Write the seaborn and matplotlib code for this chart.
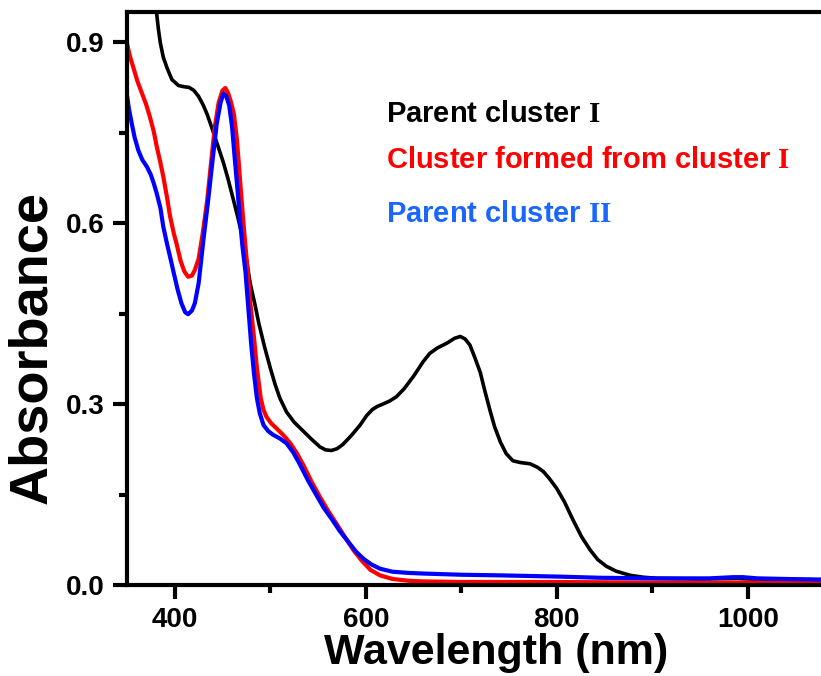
import numpy as np
import pandas as pd
import matplotlib
matplotlib.use("Agg")
import matplotlib.pyplot as plt
from matplotlib.ticker import MultipleLocator, FormatStrFormatter
import seaborn as sns

# UV-vis-NIR absorption spectra (wavelength in nm, absorbance)
wl_parent1 = [378, 381, 383, 385, 388, 392, 397, 404, 410, 415, 420, 425, 430, 434,
              438, 442, 446, 451, 456, 462, 466, 470, 475, 479, 484, 488, 494, 500,
              505, 510, 517, 525, 534, 543, 552, 558, 564, 570, 576, 585, 594, 601,
              607, 612, 618, 625, 632, 640, 650, 660, 667, 675, 685, 693, 699, 704,
              709, 714, 720, 725, 730, 735, 741, 747, 754, 762, 772, 780, 786, 792,
              800, 808, 817, 826, 835, 843, 852, 862, 877, 890, 905, 950, 990, 1000,
              1040, 1080]
abs_parent1 = [0.98, 0.948, 0.92, 0.898, 0.875, 0.857, 0.838, 0.828, 0.826, 0.825, 0.82,
               0.81, 0.795, 0.78, 0.762, 0.743, 0.724, 0.70, 0.672, 0.635, 0.61, 0.583,
               0.54, 0.50, 0.465, 0.434, 0.395, 0.36, 0.333, 0.31, 0.287, 0.27, 0.256,
               0.242, 0.229, 0.224, 0.223, 0.226, 0.233, 0.248, 0.265, 0.281, 0.291,
               0.296, 0.300, 0.305, 0.312, 0.325, 0.346, 0.37, 0.384, 0.393, 0.401,
               0.409, 0.412, 0.408, 0.398, 0.378, 0.352, 0.32, 0.29, 0.262, 0.237,
               0.218, 0.206, 0.203, 0.201, 0.195, 0.188, 0.177, 0.16, 0.138, 0.108,
               0.08, 0.058, 0.042, 0.031, 0.023, 0.016, 0.013, 0.011, 0.010, 0.011,
               0.010, 0.009, 0.008]

wl_formed = [350, 353, 357, 361, 365, 370, 374, 378, 381, 385, 388, 392, 395, 399, 402,
             406, 410, 414, 418, 421, 425, 429, 434, 438, 442, 446, 450, 453, 456, 459,
             462, 465, 467, 470, 473, 476, 479, 483, 486, 490, 493, 496, 501, 507, 514,
             521, 528, 535, 543, 552, 561, 570, 578, 587, 596, 605, 615, 628, 645, 660,
             700, 800, 900, 1000, 1080]
abs_formed = [0.898, 0.877, 0.856, 0.835, 0.818, 0.797, 0.776, 0.752, 0.728, 0.70, 0.677,
              0.642, 0.612, 0.583, 0.565, 0.538, 0.52, 0.511, 0.513, 0.522, 0.541, 0.58,
              0.638, 0.70, 0.76, 0.80, 0.82, 0.824, 0.815, 0.80, 0.78, 0.74, 0.70,
              0.638, 0.58, 0.527, 0.47, 0.41, 0.36, 0.31, 0.29, 0.279, 0.268, 0.259,
              0.248, 0.235, 0.218, 0.198, 0.172, 0.146, 0.122, 0.100, 0.080, 0.058,
              0.040, 0.025, 0.016, 0.010, 0.007, 0.006, 0.005, 0.005, 0.004, 0.004,
              0.003]

wl_parent2 = [350, 352, 355, 358, 362, 366, 371, 375, 378, 381, 385, 388, 392, 396, 399,
              403, 407, 411, 414, 418, 421, 425, 430, 435, 440, 444, 448, 451, 454, 457,
              460, 463, 466, 468, 471, 474, 477, 480, 483, 486, 489, 493, 498, 503, 510,
              517, 524, 531, 540, 548, 556, 565, 573, 581, 590, 598, 606, 615, 628, 645,
              660, 700, 740, 800, 845, 900, 960, 985, 995, 1010, 1040, 1080]
abs_parent2 = [0.812, 0.79, 0.765, 0.742, 0.72, 0.705, 0.693, 0.68, 0.666, 0.65, 0.625,
               0.594, 0.565, 0.538, 0.517, 0.49, 0.467, 0.452, 0.449, 0.455, 0.467, 0.50,
               0.572, 0.638, 0.71, 0.765, 0.80, 0.815, 0.81, 0.795, 0.76, 0.704, 0.65,
               0.61, 0.56, 0.52, 0.46, 0.40, 0.35, 0.31, 0.285, 0.265, 0.255, 0.249,
               0.243, 0.235, 0.22, 0.20, 0.172, 0.15, 0.128, 0.108, 0.089, 0.073, 0.055,
               0.043, 0.034, 0.027, 0.022, 0.020, 0.019, 0.017, 0.016, 0.014, 0.012,
               0.011, 0.011, 0.013, 0.013, 0.011, 0.010, 0.009]

series_names = ["Parent cluster I", "Cluster formed from cluster I", "Parent cluster II"]
line_colors = ["#000000", "#ff0000", "#0000ff"]
label_colors = ["#000000", "#ff0000", "#1a66ff"]
label_texts = [r"Parent cluster $\mathbf{I}$",
               r"Cluster formed from cluster $\mathbf{I}$",
               r"Parent cluster $\mathbf{II}$"]

df = pd.concat([
    pd.DataFrame({"Wavelength": wl_parent1, "Absorbance": abs_parent1, "Sample": series_names[0]}),
    pd.DataFrame({"Wavelength": wl_formed, "Absorbance": abs_formed, "Sample": series_names[1]}),
    pd.DataFrame({"Wavelength": wl_parent2, "Absorbance": abs_parent2, "Sample": series_names[2]}),
], ignore_index=True)

sns.set_style("white")
plt.rcParams.update({
    "font.family": ["Liberation Sans", "DejaVu Sans"],
    "font.weight": "bold",
    "text.color": "black",
    "axes.labelcolor": "black",
    "xtick.color": "black",
    "ytick.color": "black",
    "mathtext.fontset": "custom",
    "mathtext.bf": "Liberation Serif:bold",
    "mathtext.rm": "Liberation Serif",
})

fig = plt.figure(figsize=(8.21, 6.76), dpi=100)
W, H = 821, 676
ax = fig.add_axes([127 / W, (H - 585) / H, (821 - 127) / W, (585 - 12) / H])

sns.lineplot(data=df, x="Wavelength", y="Absorbance", hue="Sample",
             hue_order=series_names, palette=line_colors, sort=False,
             estimator=None, legend=False, ax=ax)
widths = [2.6, 3.0, 3.0]
for line, lw in zip(ax.get_lines(), widths):
    line.set_linewidth(lw)
    line.set_solid_capstyle("round")
    line.set_solid_joinstyle("round")

ax.set_xlim(350, 1076.7)
ax.set_ylim(0, 0.95)

ax.xaxis.set_major_locator(MultipleLocator(200))
ax.xaxis.set_minor_locator(MultipleLocator(100))
ax.yaxis.set_major_locator(MultipleLocator(0.3))
ax.yaxis.set_minor_locator(MultipleLocator(0.15))
ax.tick_params(which="both", direction="out", top=False, right=False,
               bottom=True, left=True, width=3, color="black")
ax.tick_params(which="major", length=10, labelsize=20, pad=6, labelcolor="black")
ax.tick_params(which="minor", length=5.5)
ax.yaxis.set_major_formatter(FormatStrFormatter("%.1f"))
for lab in ax.get_xticklabels() + ax.get_yticklabels():
    lab.set_fontweight("bold")

for side in ["left", "bottom", "top"]:
    ax.spines[side].set_linewidth(3)
    ax.spines[side].set_color("black")
ax.spines["right"].set_visible(False)

ax.set_xlabel("Wavelength (nm)", fontsize=31, fontweight="bold", va="top", color="black")
ax.xaxis.set_label_coords(0.532, -0.084)
ax.set_ylabel("Absorbance", fontsize=39, fontweight="bold", va="center", ha="center",
              color="black")
ax.yaxis.set_label_coords(-0.137, 0.415)

label_y = [0.768, 0.691, 0.602]
for txt, col, yv in zip(label_texts, label_colors, label_y):
    ax.text(621, yv, txt, color=col, fontsize=21, fontweight="bold",
            ha="left", va="baseline")

fig.savefig("out.png", dpi=100)
